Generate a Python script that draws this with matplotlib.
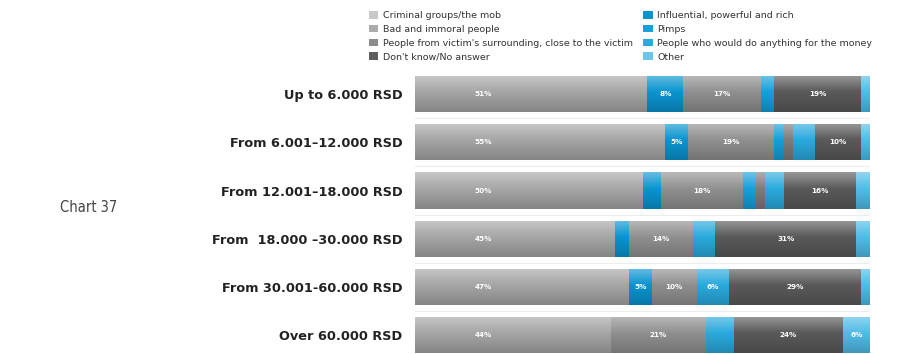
import numpy as np
import matplotlib
matplotlib.use("Agg")
import matplotlib.pyplot as plt
from matplotlib.patches import Patch

# ---------------- data ----------------
groups = ["Up to 6.000 RSD", "From 6.001\u201312.000 RSD", "From 12.001\u201318.000 RSD",
          "From  18.000 \u201330.000 RSD", "From 30.001-60.000 RSD", "Over 60.000 RSD"]

categories = ["Criminal groups/the mob", "Influential, powerful and rich",
              "Bad and immoral people", "Pimps",
              "People from victim's surrounding, close to the victim",
              "People who would do anything for the money",
              "Don't know/No answer", "Other"]

criminal    = [51, 55, 50, 44, 47, 43]
influential = [8, 5, 4, 3, 5, 0]
bad         = [17, 19, 18, 14, 10, 21]
pimps       = [3, 2, 3, 0, 0, 0]
surrounding = [0, 2, 2, 0, 0, 0]
anything    = [0, 5, 4, 5, 7, 6]
dont_know   = [19, 10, 16, 31, 29, 24]
other       = [2, 2, 4, 3, 2, 6]

lab_criminal    = ["51%", "55%", "50%", "45%", "47%", "44%"]
lab_influential = ["8%", "5%", "", "", "5%", ""]
lab_bad         = ["17%", "19%", "18%", "14%", "10%", "21%"]
lab_pimps       = ["", "", "", "", "", ""]
lab_surrounding = ["", "", "", "", "", ""]
lab_anything    = ["", "", "", "", "6%", ""]
lab_dont_know   = ["19%", "10%", "16%", "31%", "29%", "24%"]
lab_other       = ["", "", "", "", "", "6%"]

series = [criminal, influential, bad, pimps, surrounding, anything, dont_know, other]
series_labels = [lab_criminal, lab_influential, lab_bad, lab_pimps, lab_surrounding,
                 lab_anything, lab_dont_know, lab_other]
colors = ["#a6a6a6", "#0a94d0", "#909090", "#16a0da", "#7c7c7c", "#2aaade", "#5a5a5a", "#52bce8"]

# ---------------- figure ----------------
fig = plt.figure(figsize=(9.19, 3.54), dpi=100)
ax = fig.add_axes([415/919, 0.0, 455/919, 1 - 70/354])

n = len(groups)
ypos = np.arange(n)[::-1]  # top row first
h = 0.75

left = np.zeros(n)
for k, (vals, labs, col) in enumerate(zip(series, series_labels, colors)):
    vals = np.array(vals, dtype=float)
    ax.barh(ypos, vals, left=left, height=h, color=col, edgecolor="none", zorder=2)
    for i in range(n):
        if labs[i]:
            x = 15 if k == 0 else left[i] + vals[i] / 2
            ax.text(x, ypos[i], labs[i], ha="center", va="center", color="white",
                    fontsize=5.2, fontweight="bold", zorder=5)
    left += vals

# glossy gradient overlay
N = 64
t = np.linspace(0, 1, N)
grad = np.zeros((N, 1, 4))
for j, tv in enumerate(t):
    if tv < 0.45:
        grad[j, 0] = [1, 1, 1, 0.38 * (1 - tv / 0.45)]
    else:
        grad[j, 0] = [0, 0, 0, 0.2 * (tv - 0.45) / 0.55]
for y in ypos:
    ax.imshow(grad, extent=[0, 100, y - h / 2, y + h / 2], origin="upper",
              aspect="auto", interpolation="bilinear", zorder=3)

# faint separators
for y in ypos[:-1]:
    ax.axhline(y - 0.5, color="#ededed", lw=0.8, zorder=1)

ax.set_xlim(0, 100)
ax.set_ylim(-0.39, 5.5)
ax.set_yticks(ypos)
ax.set_yticklabels(groups, fontsize=9.3, fontweight="bold", color="#222222")
ax.tick_params(axis="y", length=0, pad=9)
ax.set_xticks([])
for s in ax.spines.values():
    s.set_visible(False)

# legend (column-wise: grays left, blues right)
order = [0, 2, 4, 6, 1, 3, 5, 7]
legend_colors = ["#c9c9c9", "#0a94d0", "#ababab", "#16a0da", "#8c8c8c", "#2aaade", "#5e5e5e", "#6cc6ec"]
handles = [Patch(facecolor=legend_colors[i], edgecolor="none") for i in order]
labels = [categories[i] for i in order]
fig.legend(handles, labels, ncol=2, loc="upper left", bbox_to_anchor=(364/919, 1 - 6/354),
           frameon=False, fontsize=6.8, handlelength=1.0, handleheight=0.9,
           handletextpad=0.5, labelspacing=0.5, columnspacing=1.1, borderpad=0,
           labelcolor="#333333")

fig.text(60/919, 1 - 207/354, "Chart 37", fontsize=10.5, color="#444444",
         family=["DejaVu Sans"], fontstretch="condensed", va="center", ha="left")

fig.savefig("out.png", dpi=100)
